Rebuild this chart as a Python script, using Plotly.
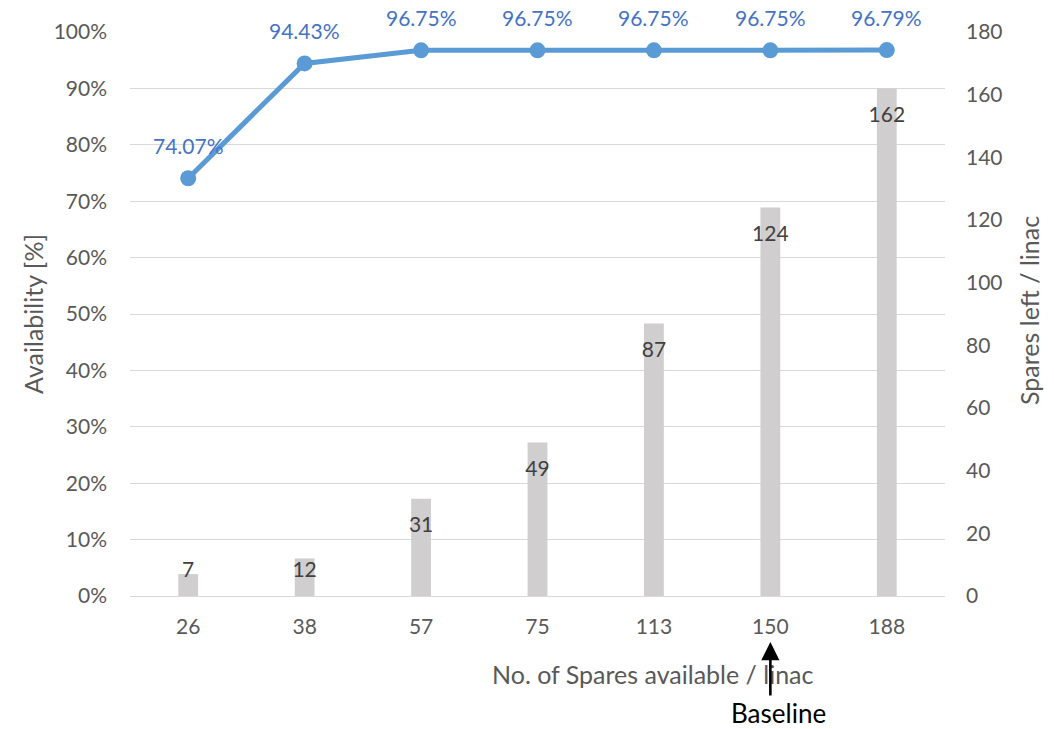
import plotly.graph_objects as go

# Spares scenarios per linac
spares_available = ["26", "38", "57", "75", "113", "150", "188"]
availability_pct = [74.07, 94.43, 96.75, 96.75, 96.75, 96.75, 96.79]
spares_left = [7, 12, 31, 49, 87, 124, 162]
baseline_spares = "150"

FONT = "Lato"
GREY_TEXT = "#595959"
LINE_BLUE = "#5b9bd5"
LABEL_BLUE = "#4472c4"
BAR_GREY = "#d0cece"

W, H = 1054, 729
ML, MR, MT, MB = 130, 109, 32, 133
pw, ph = W - ML - MR, H - MT - MB


def px_to_paper(x_px, y_px):
    return (x_px - ML) / pw, (H - MB - y_px) / ph


fig = go.Figure()

# Spares left (right axis) as thin grey bars
fig.add_trace(go.Bar(
    x=spares_available, y=spares_left, yaxis="y2",
    marker=dict(color=BAR_GREY, line=dict(width=0)),
    width=0.17, showlegend=False,
))

# Bar value labels sit just inside the bar top, never below the base
label_y = [max(v - 9.0, 7.6) for v in spares_left]
fig.add_trace(go.Scatter(
    x=spares_available, y=label_y, yaxis="y2", mode="text",
    text=[str(v) for v in spares_left],
    textfont=dict(family=FONT, size=21, color="#404040"),
    hoverinfo="skip", showlegend=False,
))

# Availability line (left axis)
fig.add_trace(go.Scatter(
    x=spares_available, y=[v / 100 for v in availability_pct], yaxis="y",
    mode="lines+markers",
    line=dict(color=LINE_BLUE, width=5),
    marker=dict(color=LINE_BLUE, size=16),
    showlegend=False,
))

# category positions are addressed by index on the category axis
annotations = []
for i, v in enumerate(availability_pct):
    annotations.append(dict(
        x=i, y=v / 100, xref="x", yref="y", yshift=33,
        text=f"{v:.2f}%", showarrow=False,
        font=dict(family=FONT, size=21, color=LABEL_BLUE),
    ))


def paper_text(x_px, y_px, text, size, color, angle=0):
    x, y = px_to_paper(x_px, y_px)
    return dict(x=x, y=y, xref="paper", yref="paper", xanchor="center",
                yanchor="middle", text=text, showarrow=False, textangle=angle,
                font=dict(family=FONT, size=size, color=color))


# axis titles
annotations.append(paper_text(653, 674, "No. of Spares available / linac", 25, GREY_TEXT))
annotations.append(paper_text(33, 314, "Availability [%]", 25, GREY_TEXT, -90))
annotations.append(paper_text(1029, 311, "Spares left / linac", 25, GREY_TEXT, -90))

# Baseline marker below the 150 category
bi = spares_available.index(baseline_spares)
_, ay_head = px_to_paper(0, 642)
annotations.append(dict(
    x=bi, xref="x", y=ay_head, yref="paper",
    ax=0, ay=55, axref="pixel", ayref="pixel",
    text="", showarrow=True, arrowhead=2, arrowsize=1.4, arrowwidth=2.6,
    arrowcolor="#000000",
))
_, by = px_to_paper(0, 713)
annotations.append(dict(
    x=bi, xref="x", xshift=8, y=by, yref="paper", yanchor="middle",
    text="Baseline", showarrow=False,
    font=dict(family=FONT, size=26, color="#000000"),
))

fig.update_layout(
    width=W, height=H,
    margin=dict(l=ML, r=MR, t=MT, b=MB),
    paper_bgcolor="white", plot_bgcolor="white",
    font=dict(family=FONT, size=21, color=GREY_TEXT),
    xaxis=dict(
        type="category", categoryorder="array", categoryarray=spares_available,
        range=[-0.5, len(spares_available) - 0.5], autorange=False,
        showgrid=False, zeroline=False, showline=False,
        ticks="", tickfont=dict(family=FONT, size=21, color=GREY_TEXT),
        ticklabelstandoff=16,
    ),
    yaxis=dict(
        range=[0, 1], dtick=0.1, tickformat=".0%",
        showgrid=True, gridcolor="#d9d9d9", gridwidth=1,
        zeroline=True, zerolinecolor="#d9d9d9", zerolinewidth=1,
        showline=False, ticks="",
        tickfont=dict(family=FONT, size=21, color=GREY_TEXT),
        ticklabelstandoff=22,
    ),
    yaxis2=dict(
        range=[0, 180], dtick=20, overlaying="y", side="right",
        showgrid=False, zeroline=False, showline=False, ticks="",
        tickfont=dict(family=FONT, size=21, color=GREY_TEXT),
        ticklabelstandoff=20,
    ),
    annotations=annotations,
)

fig.write_html("out.html")
